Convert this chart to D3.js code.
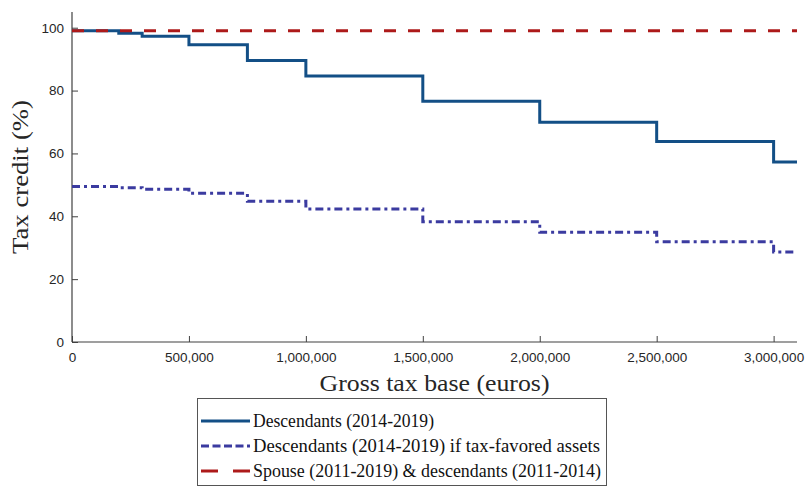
<!DOCTYPE html>
<html>
<head>
<meta charset="utf-8">
<script src="https://cdn.jsdelivr.net/npm/d3@7"></script>
<style>
  html, body { margin: 0; padding: 0; background: #fff; }
  svg { display: block; }
</style>
</head>
<body>
<svg id="chart" width="808" height="488"></svg>
<script>
// Bracket thresholds of the gross tax base (euros)
const thresholds = [0, 200000, 300000, 500000, 750000, 1000000, 1500000, 2000000, 2500000, 3000000];
const xEnd = 3100000;

// Tax credit (%) applying from each threshold onward
const descendants = [99, 98.2, 97.3, 94.6, 89.6, 84.6, 76.6, 69.9, 63.8, 57.3];
const descendantsFavored = [49.5, 49.1, 48.6, 47.3, 44.8, 42.3, 38.3, 34.9, 31.9, 28.6];
const spouse = [99];
const spouseThresholds = [0];

const yTicks = [0, 20, 40, 60, 80, 100];
const xTicks = [0, 500000, 1000000, 1500000, 2000000, 2500000, 3000000];

const seriesNames = [
  "Descendants (2014-2019)",
  "Descendants (2014-2019) if tax-favored assets",
  "Spouse (2011-2019) & descendants (2011-2014)"
];

const svg = d3.select("#chart");
const margin = { left: 72, right: 11, top: 12, bottom: 146 };
const W = 808, H = 488;

const x = d3.scaleLinear().domain([0, xEnd]).range([margin.left, W - margin.right]);
const y = d3.scaleLinear().domain([0, 105]).range([H - margin.bottom, margin.top]);

// Build step points (value holds until the next threshold, last runs to xEnd)
function steps(ths, vals) {
  const pts = [];
  ths.forEach((t, i) => {
    const next = i < ths.length - 1 ? ths[i + 1] : xEnd;
    pts.push([t, vals[i]]);
    pts.push([next, vals[i]]);
  });
  return pts;
}

const line = d3.line().x(d => x(d[0])).y(d => y(d[1]));

const styles = [
  { color: "#134f86", dash: null, legendDash: null },
  { color: "#3b3ba0", dash: "8,4,3,4", legendDash: "8,3.5" },
  { color: "#ad1a1a", dash: "12,12", legendDash: "17,15" }
];

const data = [
  steps(thresholds, descendants),
  steps(thresholds, descendantsFavored),
  steps(spouseThresholds, spouse)
];

// Axes
const axisColor = "#404040";
const xAxis = d3.axisBottom(x).tickValues(xTicks).tickSize(-6).tickPadding(10)
  .tickFormat(d => d === 0 ? "0" : d3.format(",")(d));
const yAxis = d3.axisLeft(y).tickValues(yTicks).tickSize(-6).tickPadding(8);

const gx = svg.append("g").attr("transform", `translate(0,${y(0)})`).call(xAxis);
const gy = svg.append("g").attr("transform", `translate(${x(0)},0)`).call(yAxis);

[gx, gy].forEach(g => {
  g.select(".domain").attr("stroke", axisColor).attr("stroke-width", 1.2);
  g.selectAll(".tick line").attr("stroke", axisColor).attr("stroke-width", 1);
  g.selectAll(".tick text").attr("fill", "#262626")
    .style("font-family", "'Liberation Sans', Arial, sans-serif").style("font-size", "13.5px");
});
gx.select(".domain").attr("d", `M${x(0)},0H${x(xEnd)}`);
gy.select(".domain").attr("d", `M0,${y(105)}V${y(0)}`);

// Step lines
data.forEach((pts, i) => {
  svg.append("path")
    .datum(pts)
    .attr("fill", "none")
    .attr("stroke", styles[i].color)
    .attr("stroke-width", 3)
    .attr("stroke-dasharray", styles[i].dash)
    .attr("d", line);
});

// Axis titles
const serif = "'Liberation Serif', 'DejaVu Serif', serif";
svg.append("text")
  .attr("x", (x(0) + x(xEnd)) / 2).attr("y", 391)
  .attr("text-anchor", "middle")
  .attr("textLength", 230).attr("lengthAdjust", "spacingAndGlyphs")
  .style("font-family", serif).style("font-size", "23px").attr("fill", "#262626")
  .text("Gross tax base (euros)");

svg.append("text")
  .attr("transform", `translate(28,${(y(0) + y(105)) / 2}) rotate(-90)`)
  .attr("text-anchor", "middle")
  .attr("textLength", 154).attr("lengthAdjust", "spacingAndGlyphs")
  .style("font-family", serif).style("font-size", "23px").attr("fill", "#262626")
  .text("Tax credit (%)");

// Legend
const legendTextWidths = [181, 347, 348];
const lg = svg.append("g");
lg.append("rect")
  .attr("x", 197.5).attr("y", 398.5).attr("width", 409).attr("height", 87)
  .attr("fill", "#fff").attr("stroke", "#555").attr("stroke-width", 1);

seriesNames.forEach((name, i) => {
  const cy = 421 + i * 25;
  lg.append("line")
    .attr("x1", 201).attr("x2", 250).attr("y1", cy).attr("y2", cy)
    .attr("stroke", styles[i].color).attr("stroke-width", 3)
    .attr("stroke-dasharray", styles[i].legendDash);
  lg.append("text")
    .attr("x", 253).attr("y", cy + 6)
    .attr("textLength", legendTextWidths[i]).attr("lengthAdjust", "spacingAndGlyphs")
    .style("font-family", serif).style("font-size", "18.5px").attr("fill", "#111")
    .text(name);
});
</script>
</body>
</html>
